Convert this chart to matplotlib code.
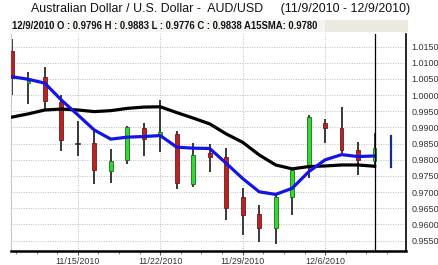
import matplotlib
matplotlib.use("Agg")
import matplotlib.pyplot as plt
from matplotlib.patches import Rectangle
from matplotlib.ticker import FixedLocator

plt.rcParams['font.family'] = ['Liberation Sans', 'DejaVu Sans']

dates = ["11/9", "11/10", "11/11", "11/12", "11/15", "11/16", "11/17", "11/18",
         "11/19", "11/22", "11/23", "11/24", "11/25", "11/26", "11/29", "11/30",
         "12/1", "12/2", "12/3", "12/6", "12/7", "12/8", "12/9"]
opens  = [1.0137, 1.0037, 1.0055, 0.9980, 0.9850, 0.9853, 0.9766, 0.9800,
          0.9898, 0.9877, 0.9880, 0.9724, 0.9821, 0.9809, 0.9686, 0.9633,
          0.9588, 0.9686, 0.9779, 0.9913, 0.9898, 0.9830, 0.9796]
highs  = [1.0175, 1.0071, 1.0088, 0.9999, 0.9920, 0.9890, 0.9834, 0.9905,
          0.9913, 0.9985, 0.9890, 0.9851, 0.9849, 0.9837, 0.9712, 0.9660,
          0.9697, 0.9774, 0.9938, 0.9926, 0.9964, 0.9854, 0.9883]
lows   = [0.9999, 0.9973, 0.9957, 0.9827, 0.9813, 0.9724, 0.9727, 0.9787,
          0.9813, 0.9825, 0.9710, 0.9717, 0.9763, 0.9614, 0.9568, 0.9547,
          0.9540, 0.9629, 0.9743, 0.9851, 0.9822, 0.9753, 0.9776]
closes = [1.0053, 1.0045, 0.9983, 0.9861, 0.9848, 0.9769, 0.9796, 0.9900,
          0.9864, 0.9887, 0.9727, 0.9815, 0.9809, 0.9650, 0.9629, 0.9590,
          0.9684, 0.9769, 0.9933, 0.9898, 0.9830, 0.9800, 0.9838]
sma_short = [1.0057, 1.0049, 1.0037, 0.9985, 0.9939, 0.9892, 0.9864, 0.9870,
             0.9872, 0.9875, 0.9839, 0.9836, 0.9835, 0.9789, 0.9742, 0.9701,
             0.9693, 0.9712, 0.9763, 0.9800, 0.9816, 0.9810, 0.9812]
sma15 = [0.9932, 0.9942, 0.9954, 0.9957, 0.9954, 0.9949, 0.9952, 0.9959,
         0.9963, 0.9964, 0.9946, 0.9929, 0.9911, 0.9880, 0.9854, 0.9815,
         0.9784, 0.9772, 0.9779, 0.9781, 0.9784, 0.9784, 0.9780]
next_range = (0.9779, 0.9874)  # 12/10 partial bar (blue)

week_ticks = [4, 9, 14, 19]
week_labels = ["11/15/2010", "11/22/2010", "11/29/2010", "12/6/2010"]
price_ticks = [0.9550 + 0.005 * k for k in range(13)]

title = "Australian Dollar / U.S. Dollar -  AUD/USD     (11/9/2010 - 12/9/2010)"
info = "12/9/2010 O : 0.9796 H : 0.9883 L : 0.9776 C : 0.9838 A15SMA: 0.9780"

W, H = 439, 265
fig = plt.figure(figsize=(W / 100, H / 100), dpi=100)
fig.patch.set_facecolor("white")

# title
fig.text(221 / W, 1 - 9 / H, title, ha="center", va="center", fontsize=8.9, color="#111111")

# info bar
fig.patches.append(Rectangle((11 / W, 1 - 32 / H), (325 - 11) / W, 12 / H,
                             transform=fig.transFigure, facecolor="#F4F4F2", edgecolor="none"))
fig.patches.append(Rectangle((325 / W, 1 - 32 / H), (408 - 325) / W, 12 / H,
                             transform=fig.transFigure, facecolor="#ECE9DF", edgecolor="none"))
fig.text(12 / W, 1 - 26 / H, info, ha="left", va="center", fontsize=6.85,
         fontweight="bold", color="#111111")

ax = fig.add_axes([11 / W, 1 - 251 / H, (406 - 11) / W, (251 - 34) / H])
ax.set_facecolor("white")

n = len(dates)
xs = list(range(n))
ax.set_xlim(-0.05, 23.9)
ax.set_ylim(0.9518, 1.0189)

# grid
for p in price_ticks:
    ax.axhline(p, color="#BDBDBD", lw=0.7, ls=(0, (1, 1.5)), zorder=0)
for t in week_ticks:
    ax.axvline(t, color="#BDBDBD", lw=0.7, ls=(0, (1, 1.5)), zorder=0)

# candles
bw = 0.22
for i in xs:
    o, h, l, c = opens[i], highs[i], lows[i], closes[i]
    ax.plot([i, i], [l, h], color="#2a2a2a", lw=1.3, zorder=2, solid_capstyle="butt")
    if abs(c - o) < 0.0004:
        ax.plot([i - bw / 2, i + bw / 2], [c, c], color="#2a2a2a", lw=1.2, zorder=3)
        continue
    if c >= o:
        fc, ec = "#2EDB2E", "#1E6B1E"
    else:
        fc, ec = "#B82424", "#6E1A1A"
    ax.add_patch(Rectangle((i - bw / 2, min(o, c)), bw, abs(c - o),
                           facecolor=fc, edgecolor=ec, lw=0.6, zorder=3))

# next-day partial bar
ax.plot([n, n], list(next_range), color="#1A2A8C", lw=1.6, zorder=2)

# moving averages
ax.plot(xs, sma15, color="black", lw=2.3, zorder=4, solid_joinstyle="round")
ax.plot(xs, sma_short, color="#1414E6", lw=2.3, zorder=5, solid_joinstyle="round")

# cursor line
ax.axvline(n - 1, color="black", lw=0.9, zorder=6)

# axes styling
ax.spines["top"].set_visible(False)
ax.spines["left"].set_color("#C8C8C8")
ax.spines["left"].set_linewidth(0.8)
ax.spines["right"].set_color("black")
ax.spines["right"].set_linewidth(1.2)
ax.spines["bottom"].set_color("black")
ax.spines["bottom"].set_linewidth(1.8)

ax.yaxis.tick_right()
ax.set_yticks(price_ticks)
ax.set_yticklabels(["%.4f" % p for p in price_ticks])
ax.tick_params(axis="y", length=0, pad=4, labelsize=6.5, labelcolor="#333333")

ax.set_xticks(week_ticks)
ax.set_xticklabels(week_labels)
minor = [t + k * 1.25 for t in [-1] + week_ticks for k in range(1, 4)]
minor = [m for m in minor if -0.05 < m < 23.9]
ax.xaxis.set_minor_locator(FixedLocator(minor))
ax.tick_params(axis="x", which="major", length=3, width=0.8, pad=1,
               labelsize=6.4, labelcolor="#333333", color="#555555")
ax.tick_params(axis="x", which="minor", length=2, width=0.6, color="#777777")

fig.savefig("out.png", dpi=100)
